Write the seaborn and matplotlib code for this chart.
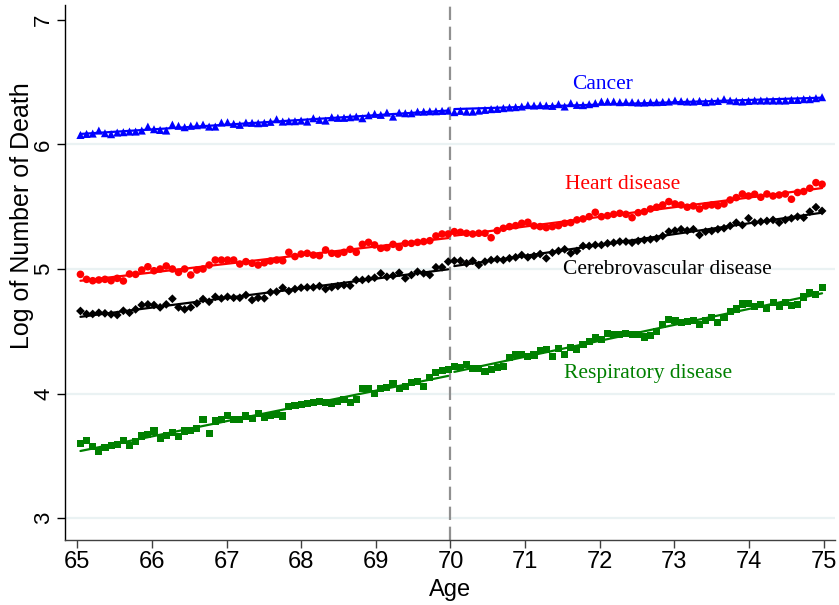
import numpy as np
import pandas as pd
import matplotlib
matplotlib.use("Agg")
import matplotlib.pyplot as plt
from matplotlib import font_manager
import seaborn as sns

# ---------------- data ----------------
bin_days = 30
n_bins = 122
age = 65 + (bin_days * np.arange(n_bins) + bin_days / 2) / 365.25

cancer = [
    6.076, 6.084, 6.087, 6.111, 6.090, 6.082, 6.095, 6.098, 6.103, 6.103,
    6.111, 6.143, 6.122, 6.116, 6.111, 6.159, 6.149, 6.138, 6.149, 6.154,
    6.159, 6.143, 6.143, 6.175, 6.178, 6.165, 6.157, 6.175, 6.173, 6.170,
    6.173, 6.181, 6.202, 6.183, 6.186, 6.186, 6.191, 6.183, 6.210, 6.197,
    6.191, 6.218, 6.213, 6.213, 6.218, 6.223, 6.210, 6.234, 6.245, 6.237,
    6.255, 6.223, 6.255, 6.250, 6.250, 6.263, 6.263, 6.266, 6.266, 6.269,
    6.271,
    6.259, 6.269, 6.263, 6.263, 6.271, 6.277, 6.283, 6.285, 6.291, 6.296,
    6.299, 6.304, 6.315, 6.312, 6.315, 6.312, 6.309, 6.323, 6.304, 6.331,
    6.317, 6.315, 6.323, 6.331, 6.344, 6.344, 6.344, 6.339, 6.341, 6.339,
    6.336, 6.336, 6.339, 6.339, 6.341, 6.344, 6.352, 6.347, 6.344, 6.344,
    6.349, 6.339, 6.344, 6.349, 6.363, 6.352, 6.347, 6.344, 6.349, 6.352,
    6.352, 6.352, 6.352, 6.352, 6.352, 6.357, 6.357, 6.363, 6.363, 6.371,
    6.379,
]

heart = [
    4.957, 4.917, 4.906, 4.912, 4.917, 4.906, 4.925, 4.904, 4.960, 4.957,
    4.992, 5.018, 4.986, 5.000, 5.024, 5.000, 4.973, 5.000, 4.952, 4.992,
    5.000, 5.032, 5.072, 5.072, 5.072, 5.072, 5.040, 5.059, 5.046, 5.032,
    5.050, 5.064, 5.072, 5.066, 5.134, 5.100, 5.120, 5.126, 5.112, 5.107,
    5.153, 5.126, 5.120, 5.134, 5.158, 5.134, 5.198, 5.214, 5.193, 5.166,
    5.171, 5.198, 5.174, 5.206, 5.206, 5.214, 5.220, 5.227, 5.265, 5.281,
    5.281,
    5.300, 5.295, 5.287, 5.281, 5.287, 5.287, 5.251, 5.308, 5.327, 5.340,
    5.348, 5.367, 5.375, 5.346, 5.340, 5.332, 5.340, 5.348, 5.367, 5.372,
    5.394, 5.402, 5.420, 5.455, 5.420, 5.428, 5.439, 5.447, 5.439, 5.412,
    5.452,
    5.460, 5.482, 5.496, 5.514, 5.541, 5.522, 5.514, 5.496, 5.506, 5.482,
    5.506, 5.514, 5.508, 5.522, 5.554, 5.573, 5.602, 5.586, 5.600, 5.576,
    5.602, 5.586, 5.594, 5.602, 5.560, 5.614, 5.622, 5.648, 5.693, 5.680,
]

cerebro = [
    4.663, 4.639, 4.639, 4.649, 4.644, 4.636, 4.631, 4.665, 4.649, 4.676,
    4.711, 4.716, 4.711, 4.692, 4.716, 4.761, 4.692, 4.676, 4.692, 4.724,
    4.759, 4.737, 4.777, 4.764, 4.777, 4.769, 4.769, 4.791, 4.751, 4.769,
    4.765, 4.813, 4.818, 4.850, 4.823, 4.839, 4.850, 4.853, 4.853, 4.863,
    4.839, 4.853, 4.863, 4.871, 4.866, 4.912, 4.912, 4.920, 4.930, 4.965,
    4.938, 4.946, 4.970, 4.925, 4.952, 4.978, 4.965, 4.952, 5.014, 5.014,
    5.059,
    5.066, 5.066, 5.046, 5.066, 5.032, 5.059, 5.072, 5.078, 5.072, 5.086,
    5.094, 5.112, 5.094, 5.104, 5.120, 5.086, 5.131, 5.145, 5.158, 5.126,
    5.145, 5.185, 5.185, 5.193, 5.193, 5.206, 5.211, 5.220, 5.220, 5.211,
    5.225,
    5.233, 5.238, 5.246, 5.265, 5.300, 5.308, 5.319, 5.308, 5.319, 5.273,
    5.300, 5.305, 5.319, 5.327, 5.346, 5.372, 5.353, 5.407, 5.372, 5.380,
    5.386, 5.394, 5.372, 5.394, 5.407, 5.420, 5.412, 5.460, 5.496, 5.466,
]

respiratory = [
    3.600, 3.620, 3.578, 3.536, 3.570, 3.586, 3.590, 3.626, 3.580, 3.613,
    3.660, 3.672, 3.700, 3.640, 3.667, 3.685, 3.656, 3.700, 3.707, 3.720,
    3.795, 3.680, 3.780, 3.790, 3.827, 3.795, 3.790, 3.820, 3.800, 3.840,
    3.810, 3.827, 3.835, 3.820, 3.900, 3.907, 3.913, 3.918, 3.926, 3.934,
    3.930, 3.920, 3.934, 3.956, 3.926, 3.953, 4.040, 4.040, 4.004, 4.040,
    4.046, 4.080, 4.040, 4.055, 4.090, 4.095, 4.055, 4.127, 4.170, 4.183,
    4.190,
    4.215, 4.207, 4.234, 4.200, 4.200, 4.180, 4.190, 4.210, 4.220, 4.287,
    4.315, 4.315, 4.295, 4.310, 4.344, 4.355, 4.300, 4.363, 4.317, 4.368,
    4.355, 4.395, 4.420, 4.448, 4.435, 4.483, 4.475, 4.475, 4.483, 4.475,
    4.475,
    4.454, 4.470, 4.502, 4.556, 4.598, 4.585, 4.572, 4.577, 4.590, 4.556,
    4.585, 4.614, 4.572, 4.609, 4.657, 4.679, 4.719, 4.724, 4.697, 4.716,
    4.684, 4.729, 4.703, 4.729, 4.705, 4.716, 4.775, 4.810, 4.797, 4.850,
]

causes = ["Cancer", "Heart disease", "Cerebrovascular disease", "Respiratory disease"]
series_values = [cancer, heart, cerebro, respiratory]
cutoff = 70
y_ticks = [3, 4, 5, 6, 7]
x_ticks = list(range(65, 76))

# ---------------- style ----------------
colors = {"Cancer": "#0000ff", "Heart disease": "#ff0000",
          "Cerebrovascular disease": "#000000", "Respiratory disease": "#008000"}
markers = {"Cancer": "^", "Heart disease": "o",
           "Cerebrovascular disease": "D", "Respiratory disease": "s"}
msize = {"Cancer": 34, "Heart disease": 30,
         "Cerebrovascular disease": 20, "Respiratory disease": 26}
label_pos = {"Cancer": (72.04, 6.48), "Heart disease": (72.31, 5.68),
             "Cerebrovascular disease": (72.91, 5.00), "Respiratory disease": (72.65, 4.165)}

sns.set_theme(style="white")
plt.rcParams["font.family"] = ["Liberation Sans", "DejaVu Sans"]
for k in ["text.color", "axes.labelcolor", "xtick.color", "ytick.color"]:
    plt.rcParams[k] = "black"

names = {f.name for f in font_manager.fontManager.ttflist}
narrow = "Liberation Sans Narrow" in names
hfont = "Liberation Sans Narrow" if narrow else "Liberation Sans"
hsize = 20 if narrow else 17

df = pd.concat([
    pd.DataFrame({"age": age, "value": vals, "cause": c})
    for c, vals in zip(causes, series_values)
], ignore_index=True)

fig = plt.figure(figsize=(8.39, 6.05), dpi=100)
ax = fig.add_axes([0.078, 0.107, 0.917, 0.885])

for yv in [3, 4, 5, 6]:
    ax.axhline(yv, color="#eaf2f3", lw=1.6, zorder=0)

for c in causes:
    sub = df[df["cause"] == c]
    sns.scatterplot(data=sub, x="age", y="value", marker=markers[c], s=msize[c],
                    color=colors[c], edgecolor="none", linewidth=0, ax=ax, zorder=3)
    for part in (sub[sub["age"] < cutoff], sub[sub["age"] >= cutoff]):
        sns.regplot(data=part, x="age", y="value", scatter=False, ci=None,
                    truncate=True, color=colors[c], line_kws={"lw": 1.6, "zorder": 4}, ax=ax)
    lx, ly = label_pos[c]
    ax.text(lx, ly, c, color=colors[c], ha="center", va="center",
            family="Liberation Serif", fontsize=15.5)

ax.axvline(cutoff, color="#909090", lw=1.6, dashes=(6, 3), zorder=2)

ax.set_xlim(64.84, 75.15)
ax.set_ylim(2.823, 7.12)
ax.set_xticks(x_ticks)
ax.set_yticks(y_ticks)
ax.set_xticklabels([str(t) for t in x_ticks], family=hfont, fontsize=hsize)
ax.set_yticklabels([str(t) for t in y_ticks], rotation=90, va="center", fontsize=16)
ax.set_xlabel("Age", family=hfont, fontsize=hsize, va="top")
ax.set_ylabel("Log of Number of Death", fontsize=18, va="center")
ax.xaxis.set_label_coords(0.4997, -0.072)
ax.yaxis.set_label_coords(-0.0565, 0.607)

for s in ["top", "right"]:
    ax.spines[s].set_visible(False)
ax.spines["left"].set_color("#000000")
ax.spines["bottom"].set_color("#404040")
ax.spines["left"].set_linewidth(1.0)
ax.spines["bottom"].set_linewidth(1.0)
ax.tick_params(axis="y", direction="out", length=6, width=1.0, color="#000000", pad=2, left=True)
ax.tick_params(axis="x", direction="out", length=6, width=1.0, color="#404040", pad=2, bottom=True)

fig.savefig("out.png", dpi=100, facecolor="white")
